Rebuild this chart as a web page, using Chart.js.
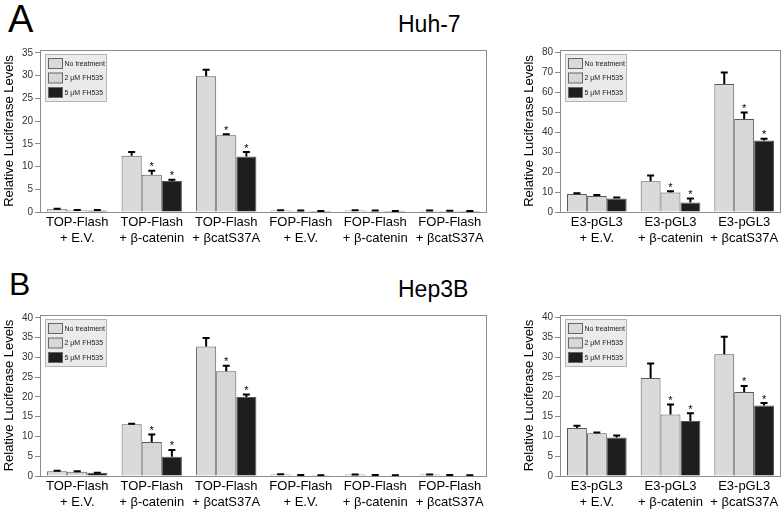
<!DOCTYPE html>
<html>
<head>
<meta charset="utf-8">
<script src="https://cdn.jsdelivr.net/npm/chart.js@4.4.1/dist/chart.umd.min.js"></script>
<style>
  body { margin: 0; background: #fff; width: 784px; height: 511px; position: relative; overflow: hidden;
         font-family: "Liberation Sans", Arial, sans-serif; }
  canvas { position: absolute; }
  .lbl { position: absolute; line-height: 1; color: #000; white-space: nowrap; }
</style>
</head>
<body>
<div class="lbl" style="left:8px; top:0px; font-size:38px;">A</div>
<div class="lbl" style="left:398px; top:13px; font-size:23px;">Huh-7</div>
<div class="lbl" style="left:9px; top:268px; font-size:32px;">B</div>
<div class="lbl" style="left:398px; top:278px; font-size:23px;">Hep3B</div>

<canvas id="huh7-flash" style="left:0px; top:42px;" width="490" height="208"></canvas>
<canvas id="huh7-e3" style="left:520px; top:42px;" width="264" height="208"></canvas>
<canvas id="hep3b-flash" style="left:0px; top:307px;" width="490" height="207"></canvas>
<canvas id="hep3b-e3" style="left:520px; top:307px;" width="264" height="207"></canvas>

<script>
// --- Categories & series names ---
const flashLabels = [
    ['TOP-Flash', '+ E.V.'], ['TOP-Flash', '+ β-catenin'], ['TOP-Flash', '+ βcatS37A'],
    ['FOP-Flash', '+ E.V.'], ['FOP-Flash', '+ β-catenin'], ['FOP-Flash', '+ βcatS37A']
];
const e3Labels = [['E3-pGL3', '+ E.V.'], ['E3-pGL3', '+ β-catenin'], ['E3-pGL3', '+ βcatS37A']];
const seriesNames = ['No treatment', '2 μM FH535', '5 μM FH535'];

// --- Huh-7, TOP/FOP-Flash ---
const huh7FlashNone = [0.6, 12.4, 29.9, 0.35, 0.35, 0.3];
const huh7FlashNoneErr = [0.1, 0.8, 1.4, 0.05, 0.05, 0.05];
const huh7Flash2uM = [0.4, 8.2, 16.9, 0.3, 0.3, 0.25];
const huh7Flash2uMErr = [0.05, 0.9, 0.2, 0.03, 0.03, 0.03];
const huh7Flash5uM = [0.35, 6.8, 12.2, 0.2, 0.2, 0.2];
const huh7Flash5uMErr = [0.08, 0.3, 1.0, 0.02, 0.02, 0.02];
const flashStars = [false, true, true, false, false, false];

// --- Huh-7, E3-pGL3 ---
const huh7E3None = [9.0, 15.4, 64.0];
const huh7E3NoneErr = [0.4, 2.9, 5.8];
const huh7E32uM = [8.0, 9.7, 46.5];
const huh7E32uMErr = [0.5, 0.7, 3.3];
const huh7E35uM = [6.8, 4.8, 35.8];
const huh7E35uMErr = [0.5, 2.0, 0.8];
const e3Stars = [false, true, true];

// --- Hep3B, TOP/FOP-Flash ---
const hep3bFlashNone = [1.2, 13.1, 32.8, 0.4, 0.35, 0.35];
const hep3bFlashNoneErr = [0.1, 0.15, 2.1, 0.05, 0.05, 0.05];
const hep3bFlash2uM = [1.1, 8.6, 26.5, 0.2, 0.2, 0.2];
const hep3bFlash2uMErr = [0.1, 1.9, 1.4, 0.03, 0.03, 0.03];
const hep3bFlash5uM = [0.8, 4.9, 20.0, 0.2, 0.15, 0.15];
const hep3bFlash5uMErr = [0.05, 1.7, 0.6, 0.02, 0.02, 0.02];

// --- Hep3B, E3-pGL3 ---
const hep3bE3None = [12.1, 24.7, 30.7];
const hep3bE3NoneErr = [0.6, 3.7, 4.4];
const hep3bE32uM = [10.8, 15.5, 21.2];
const hep3bE32uMErr = [0.2, 2.5, 1.5];
const hep3bE35uM = [9.7, 13.9, 17.8];
const hep3bE35uMErr = [0.5, 1.9, 0.6];

const FONT = '"Liberation Sans", Arial, sans-serif';

// light grey with a faint speckle, like the 2 uM bars
function speckle() {
    const c = document.createElement('canvas');
    c.width = 4; c.height = 4;
    const g = c.getContext('2d');
    g.fillStyle = '#d9d9d9';
    g.fillRect(0, 0, 4, 4);
    g.fillStyle = '#c9c9c9';
    g.fillRect(0, 0, 1, 1);
    g.fillRect(2, 2, 1, 1);
    return g.createPattern(c, 'repeat');
}
const fills = ['#dadada', speckle(), '#1e1e1e'];

// error bars (upper only) and asterisks
const errorBarPlugin = {
    id: 'errorBars',
    afterDatasetsDraw(chart) {
        const ctx = chart.ctx;
        const yScale = chart.scales.y;
        ctx.save();
        chart.data.datasets.forEach((ds, i) => {
            const meta = chart.getDatasetMeta(i);
            meta.data.forEach((bar, j) => {
                const err = ds.errors[j];
                const yTop = yScale.getPixelForValue(ds.data[j] + err);
                ctx.strokeStyle = '#000';
                ctx.lineWidth = 2;
                ctx.beginPath();
                ctx.moveTo(bar.x, bar.y);
                ctx.lineTo(bar.x, yTop);
                ctx.moveTo(bar.x - 3.5, yTop);
                ctx.lineTo(bar.x + 3.5, yTop);
                ctx.stroke();
                if (ds.stars && ds.stars[j]) {
                    ctx.fillStyle = '#000';
                    ctx.font = '11px ' + FONT;
                    ctx.textAlign = 'center';
                    ctx.textBaseline = 'alphabetic';
                    ctx.fillText('*', bar.x, yTop - 0.5);
                }
            });
        });
        ctx.restore();
    }
};

// frame around plot area and the inset legend
const framePlugin = {
    id: 'frame',
    afterDraw(chart) {
        const ctx = chart.ctx;
        const a = chart.chartArea;
        ctx.save();
        ctx.strokeStyle = '#8c8c8c';
        ctx.lineWidth = 1;
        ctx.strokeRect(Math.round(a.left) + 0.5, Math.round(a.top) + 0.5,
            Math.round(a.right - a.left) - 1, Math.round(a.bottom - a.top));

        const bx = Math.round(a.left) + 5.5, by = Math.round(a.top) + 4.5;
        ctx.fillStyle = '#ebebeb';
        ctx.strokeStyle = '#b4b4b4';
        ctx.fillRect(bx, by, 61, 47);
        ctx.strokeRect(bx, by, 61, 47);
        chart.data.datasets.forEach((ds, i) => {
            const sy = by + 4 + i * 14.5;
            ctx.fillStyle = ds.backgroundColor;
            ctx.fillRect(bx + 3, sy, 14, 10);
            ctx.strokeStyle = '#666';
            ctx.strokeRect(bx + 3, sy, 14, 10);
            ctx.fillStyle = '#222';
            ctx.font = '7px ' + FONT;
            ctx.textBaseline = 'middle';
            ctx.textAlign = 'left';
            ctx.fillText(ds.label, bx + 19, sy + 5.5);
        });
        ctx.restore();
    }
};

function makeChart(id, labels, values, errors, stars, yMax, step) {
    const datasets = values.map((vals, i) => ({
        label: seriesNames[i],
        data: vals,
        errors: errors[i],
        stars: i === 0 ? null : stars,
        backgroundColor: fills[i],
        borderColor: '#5a5a5a',
        borderWidth: 1,
        borderSkipped: 'bottom',
        categoryPercentage: 0.81,
        barPercentage: 1.0
    }));
    return new Chart(document.getElementById(id).getContext('2d'), {
        type: 'bar',
        data: { labels: labels, datasets: datasets },
        options: {
            responsive: false,
            animation: false,
            layout: { padding: { top: 6, right: 3, left: 0, bottom: 0 } },
            plugins: { legend: { display: false }, tooltip: { enabled: false } },
            scales: {
                x: {
                    grid: { display: false, drawTicks: false },
                    border: { display: false },
                    ticks: { color: '#000', font: { family: FONT, size: 13, lineHeight: 1.2 }, padding: 3, maxRotation: 0, autoSkip: false },
                    afterFit: (s) => { s.height = 38; }
                },
                y: {
                    min: 0,
                    max: yMax,
                    grid: { drawOnChartArea: false, drawTicks: true, tickLength: 5, color: '#8c8c8c' },
                    border: { display: false },
                    ticks: { stepSize: step, includeBounds: false, color: '#333', font: { family: FONT, size: 10 }, padding: 2 },
                    title: { display: true, text: 'Relative Luciferase Levels', color: '#000',
                             font: { family: FONT, size: 13 }, padding: { top: 2, bottom: 0 } },
                    afterFit: (s) => { s.width = 40; }
                }
            }
        },
        plugins: [errorBarPlugin, framePlugin]
    });
}

makeChart('huh7-flash', flashLabels,
    [huh7FlashNone, huh7Flash2uM, huh7Flash5uM],
    [huh7FlashNoneErr, huh7Flash2uMErr, huh7Flash5uMErr], flashStars, 35.65, 5);
makeChart('huh7-e3', e3Labels,
    [huh7E3None, huh7E32uM, huh7E35uM],
    [huh7E3NoneErr, huh7E32uMErr, huh7E35uMErr], e3Stars, 81, 10);
makeChart('hep3b-flash', flashLabels,
    [hep3bFlashNone, hep3bFlash2uM, hep3bFlash5uM],
    [hep3bFlashNoneErr, hep3bFlash2uMErr, hep3bFlash5uMErr], flashStars, 40.75, 5);
makeChart('hep3b-e3', e3Labels,
    [hep3bE3None, hep3bE32uM, hep3bE35uM],
    [hep3bE3NoneErr, hep3bE32uMErr, hep3bE35uMErr], e3Stars, 40.6, 5);
</script>
</body>
</html>
